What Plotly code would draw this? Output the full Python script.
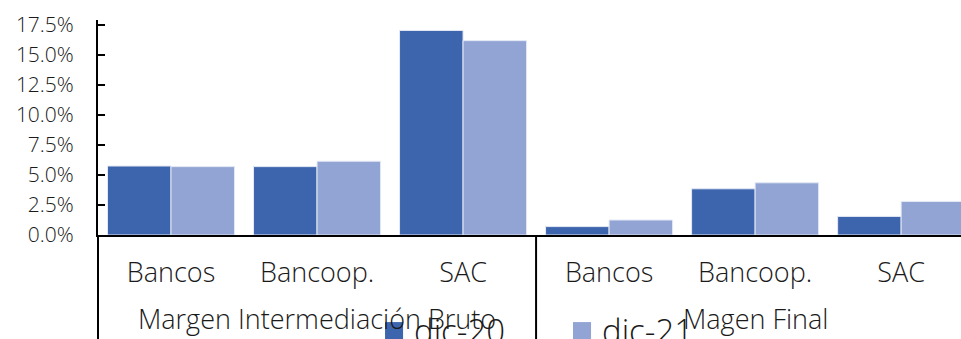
import plotly.graph_objects as go

# Sub-categories and their groups
subcats = ["Bancos", "Bancoop.", "SAC", "Bancos", "Bancoop.", "SAC"]
groups = ["Margen Intermediación Bruto", "Magen Final"]
group_centers = [1, 4]

# Margins in percent
series_names = ["dic-20", "dic-21"]
dic20 = [5.75, 5.7, 17.05, 0.7, 3.85, 1.55]
dic21 = [5.7, 6.15, 16.2, 1.25, 4.35, 2.8]
colors = ["#3d65ad", "#91a4d4"]

ytick_vals = [0, 2.5, 5, 7.5, 10, 12.5, 15, 17.5]

FONT = "Open Sans"
TXT = "#1a1a1a"
xpos = list(range(len(subcats)))

fig = go.Figure()
for name, vals, col in zip(series_names, [dic20, dic21], colors):
    fig.add_trace(go.Bar(x=xpos, y=vals, name=name,
                         marker=dict(color=col, line=dict(color="#e4e9f4", width=1))))

fig.update_layout(
    width=961, height=339,
    margin=dict(l=98, r=0, t=20, b=104, autoexpand=False),
    paper_bgcolor="white", plot_bgcolor="white",
    barmode="group", bargap=0.13, bargroupgap=0,
    font=dict(family=FONT, color=TXT, size=21, weight=300),
    showlegend=False,
)

fig.update_xaxes(
    range=[-0.5, 5.41], tickmode="array", tickvals=xpos, ticktext=subcats,
    showline=True, linecolor="black", linewidth=2, ticks="", showgrid=False,
    zeroline=False, tickfont=dict(size=27, weight=300), ticklabelstandoff=13,
)
fig.update_yaxes(
    range=[0, 17.92], tickmode="array", tickvals=ytick_vals,
    ticktext=[f"{v:.1f}%" for v in ytick_vals],
    showline=True, linecolor="black", linewidth=2, ticks="inside", ticklen=7,
    tickcolor="black", tickwidth=2, showgrid=False, zeroline=False,
    tickfont=dict(size=21, weight=300), ticklabelstandoff=18,
)

# Group labels under the sub-category labels
for g, c in zip(groups, group_centers):
    fig.add_annotation(x=c, y=-0.39, xref="x", yref="paper", text=g,
                       showarrow=False, yanchor="middle",
                       font=dict(size=27, weight=300))

# Left border and group divider running through the label area
fig.add_shape(type="line", xref="paper", yref="paper", x0=0, x1=0, y0=0, y1=-0.49,
              line=dict(color="black", width=2))
fig.add_shape(type="line", xref="x", yref="paper", x0=2.5, x1=2.5, y0=0, y1=-0.49,
              line=dict(color="black", width=2))

# Legend: colour swatch followed by series name, along the bottom edge
legend_x = [0.3326, 0.5504]
for name, col, lx in zip(series_names, colors, legend_x):
    fig.add_shape(type="rect", xref="paper", yref="paper",
                  x0=lx, x1=lx + 0.0209, y0=-0.405, y1=-0.49,
                  fillcolor=col, line=dict(width=0))
    fig.add_annotation(x=lx + 0.031, y=-0.332, xref="paper", yref="paper",
                       text=name, showarrow=False, xanchor="left", yanchor="top",
                       font=dict(size=33, weight=300))

fig.write_html("out.html")
